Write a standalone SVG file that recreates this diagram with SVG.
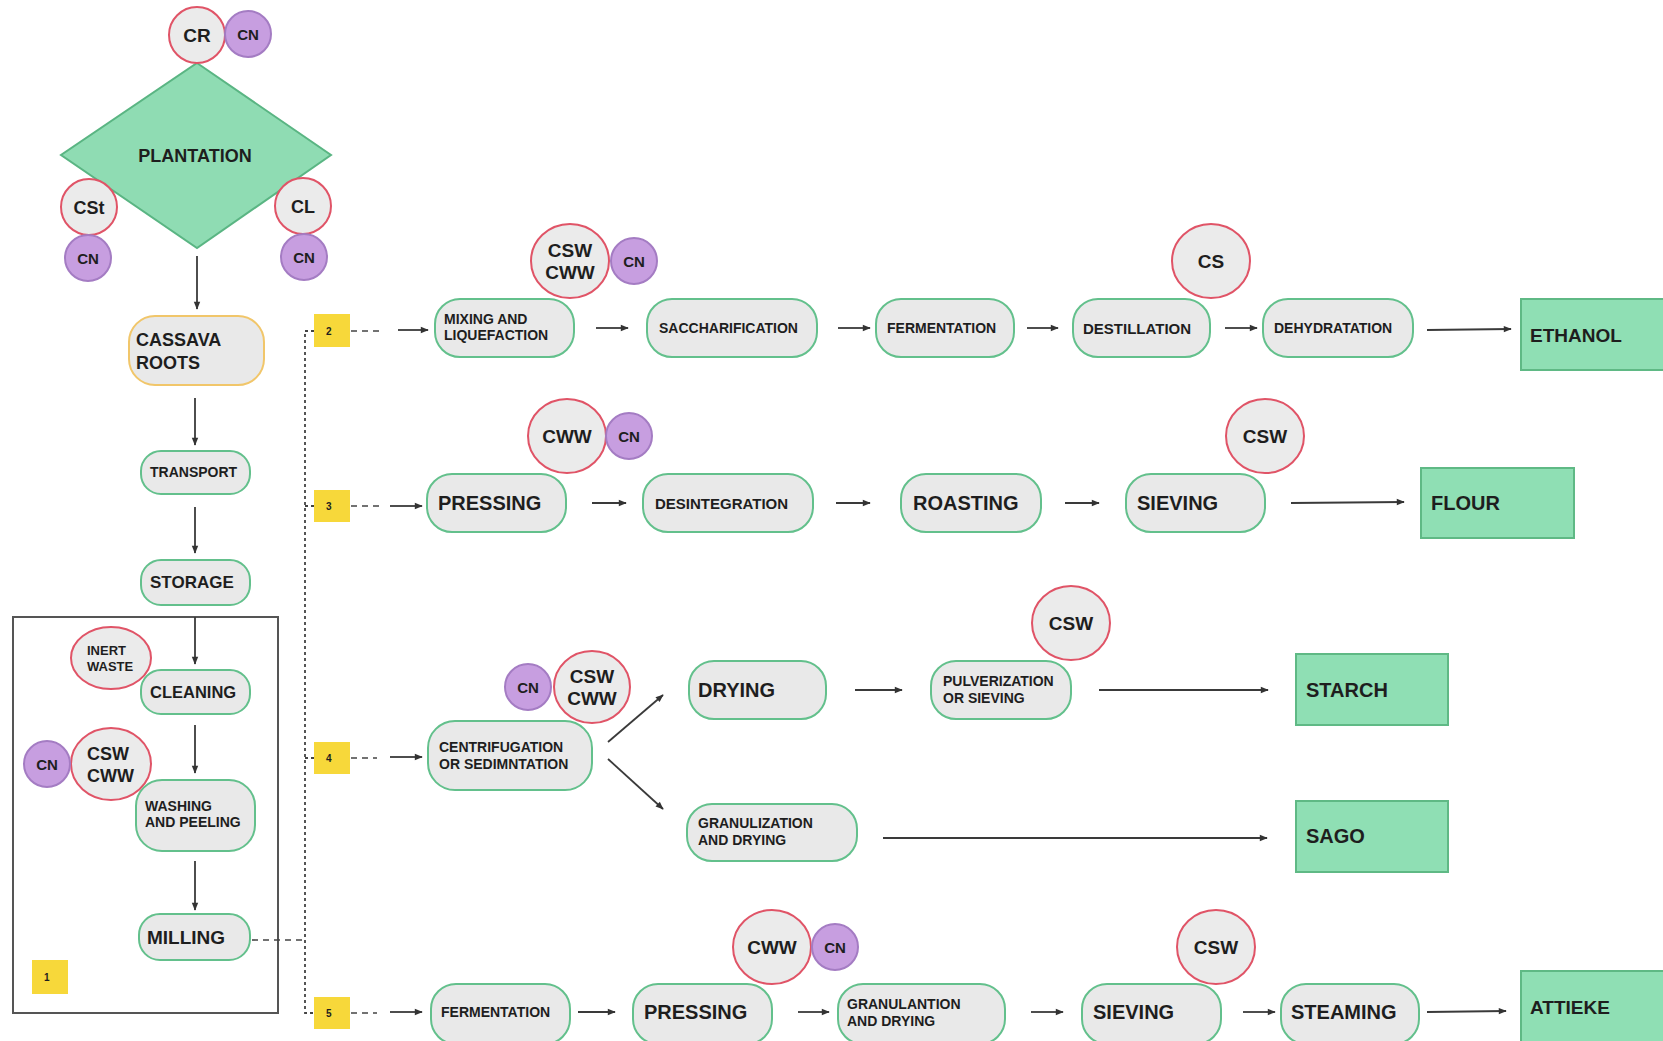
<svg xmlns="http://www.w3.org/2000/svg" width="1663" height="1041" viewBox="0 0 1663 1041">
<defs>
<style>
.t{font-family:"Liberation Sans",Arial,sans-serif;font-weight:bold;fill:#1e1e1e}
.n{fill:#e9e9e9;stroke:#63c08c;stroke-width:2}
.o{fill:#e9e9e9;stroke:#f1c66a;stroke-width:2}
.r{fill:#ebebeb;stroke:#e05467;stroke-width:2}
.p{fill:#c79ee0;stroke:#a47cc3;stroke-width:2}
.g{fill:#8fdfb4;stroke:#5fb985;stroke-width:2}
.y{fill:#f7d83a}
.a{stroke:#3a3a3a;stroke-width:1.8;fill:none}
.d{stroke:#444;stroke-width:1.6;fill:none;stroke-dasharray:6,5}
.v{stroke:#444;stroke-width:1.8;fill:none;stroke-dasharray:3,3}
</style>
<marker id="ah" viewBox="0 0 10 10" refX="9" refY="5" markerWidth="9" markerHeight="8" markerUnits="userSpaceOnUse" orient="auto"><path d="M0,1 L10,5 L0,9 z" fill="#333"/></marker>
</defs>
<rect width="1663" height="1041" fill="#fff"/>

<g id="group1-frame"><rect x="13" y="617" width="265" height="396" fill="none" stroke="#555" stroke-width="2"/></g>

<g id="connectors">
<line class="a" x1="197" y1="256" x2="197" y2="309" marker-end="url(#ah)"/>
<line class="a" x1="195" y1="398" x2="195" y2="445" marker-end="url(#ah)"/>
<line class="a" x1="195" y1="507" x2="195" y2="553" marker-end="url(#ah)"/>
<line class="a" x1="195" y1="617" x2="195" y2="664" marker-end="url(#ah)"/>
<line class="a" x1="195" y1="725" x2="195" y2="773" marker-end="url(#ah)"/>
<line class="a" x1="195" y1="861" x2="195" y2="910" marker-end="url(#ah)"/>
<line class="d" x1="252" y1="940" x2="305" y2="940"/>
<polyline class="v" points="314,331 305,331 305,1013 314,1013"/>
<line class="v" x1="305" y1="506" x2="314" y2="506"/>
<line class="v" x1="305" y1="758" x2="314" y2="758"/>
<line class="d" x1="351" y1="331" x2="384" y2="331"/>
<line class="d" x1="351" y1="506" x2="380" y2="506"/>
<line class="d" x1="351" y1="758" x2="377" y2="758"/>
<line class="d" x1="351" y1="1013" x2="377" y2="1013"/>
<line class="a" x1="398" y1="330" x2="428" y2="330" marker-end="url(#ah)"/>
<line class="a" x1="596" y1="328" x2="628" y2="328" marker-end="url(#ah)"/>
<line class="a" x1="838" y1="328" x2="870" y2="328" marker-end="url(#ah)"/>
<line class="a" x1="1027" y1="328" x2="1058" y2="328" marker-end="url(#ah)"/>
<line class="a" x1="1225" y1="328" x2="1257" y2="328" marker-end="url(#ah)"/>
<line class="a" x1="1427" y1="330" x2="1511" y2="329" marker-end="url(#ah)"/>
<line class="a" x1="390" y1="506" x2="422" y2="506" marker-end="url(#ah)"/>
<line class="a" x1="592" y1="503" x2="626" y2="503" marker-end="url(#ah)"/>
<line class="a" x1="836" y1="503" x2="870" y2="503" marker-end="url(#ah)"/>
<line class="a" x1="1065" y1="503" x2="1099" y2="503" marker-end="url(#ah)"/>
<line class="a" x1="1291" y1="503" x2="1404" y2="502" marker-end="url(#ah)"/>
<line class="a" x1="390" y1="757" x2="422" y2="757" marker-end="url(#ah)"/>
<line class="a" x1="608" y1="742" x2="663" y2="695" marker-end="url(#ah)"/>
<line class="a" x1="608" y1="759" x2="663" y2="809" marker-end="url(#ah)"/>
<line class="a" x1="855" y1="690" x2="902" y2="690" marker-end="url(#ah)"/>
<line class="a" x1="1099" y1="690" x2="1268" y2="690" marker-end="url(#ah)"/>
<line class="a" x1="883" y1="838" x2="1267" y2="838" marker-end="url(#ah)"/>
<line class="a" x1="390" y1="1012" x2="422" y2="1012" marker-end="url(#ah)"/>
<line class="a" x1="578" y1="1012" x2="615" y2="1012" marker-end="url(#ah)"/>
<line class="a" x1="798" y1="1012" x2="829" y2="1012" marker-end="url(#ah)"/>
<line class="a" x1="1031" y1="1012" x2="1063" y2="1012" marker-end="url(#ah)"/>
<line class="a" x1="1243" y1="1012" x2="1275" y2="1012" marker-end="url(#ah)"/>
<line class="a" x1="1427" y1="1012" x2="1506" y2="1011" marker-end="url(#ah)"/>
</g>

<g id="plantation"><polygon points="197,63 331,155 197,248 61,155" fill="#8fdcb3" stroke="#5ab583" stroke-width="2"/><text class="t" x="195" y="162" font-size="18" text-anchor="middle">PLANTATION</text></g>
<g id="cr"><circle class="r" cx="197" cy="35" r="28"/><text class="t" x="197" y="42" font-size="19" text-anchor="middle">CR</text></g>
<g id="cn-top"><circle class="p" cx="248" cy="34" r="23"/><text class="t" x="248" y="39.5" font-size="15" text-anchor="middle">CN</text></g>
<g id="cst"><circle class="r" cx="89" cy="207" r="28"/><text class="t" x="89" y="214" font-size="18" text-anchor="middle">CSt</text></g>
<g id="cn-left"><circle class="p" cx="88" cy="258" r="23"/><text class="t" x="88" y="263.5" font-size="15" text-anchor="middle">CN</text></g>
<g id="cl"><circle class="r" cx="303" cy="206" r="28"/><text class="t" x="303" y="213" font-size="18" text-anchor="middle">CL</text></g>
<g id="cn-right"><circle class="p" cx="304" cy="257" r="23"/><text class="t" x="304" y="262.5" font-size="15" text-anchor="middle">CN</text></g>

<g id="cassava-roots"><rect class="o" x="129" y="316" width="135" height="69" rx="26"/><text class="t" x="136" y="345.5" font-size="18">CASSAVA</text><text class="t" x="136" y="368.5" font-size="18">ROOTS</text></g>
<g id="transport"><rect class="n" x="141" y="451" width="109" height="43" rx="20"/><text class="t" x="150" y="477" font-size="14">TRANSPORT</text></g>
<g id="storage"><rect class="n" x="141" y="560" width="109" height="45" rx="20"/><text class="t" x="150" y="588" font-size="17">STORAGE</text></g>
<g id="cleaning"><rect class="n" x="141" y="670" width="109" height="44" rx="20"/><text class="t" x="150" y="698" font-size="16.5">CLEANING</text></g>
<g id="inert-waste"><ellipse class="r" cx="111" cy="658" rx="40" ry="31"/><text class="t" x="87" y="655" font-size="13">INERT</text><text class="t" x="87" y="671" font-size="13">WASTE</text></g>
<g id="washing-peeling"><rect class="n" x="136" y="780" width="119" height="71" rx="26"/><text class="t" x="145" y="811" font-size="14">WASHING</text><text class="t" x="145" y="827" font-size="14">AND PEELING</text></g>
<g id="csw-cww-left"><ellipse class="r" cx="111" cy="764" rx="40" ry="36"/><text class="t" x="87" y="759.5" font-size="18">CSW</text><text class="t" x="87" y="781.5" font-size="18">CWW</text></g>
<g id="cn-wash"><circle class="p" cx="47" cy="764" r="23"/><text class="t" x="47" y="769.5" font-size="15" text-anchor="middle">CN</text></g>
<g id="milling"><rect class="n" x="139" y="914" width="111" height="46" rx="21"/><text class="t" x="147" y="944" font-size="19">MILLING</text></g>
<g id="label1"><rect class="y" x="32" y="960" width="36" height="34"/><text class="t" x="44" y="981" font-size="10">1</text></g>

<g id="label2"><rect class="y" x="314" y="314" width="36" height="33"/><text class="t" x="326" y="335" font-size="10">2</text></g>
<g id="label3"><rect class="y" x="314" y="490" width="36" height="32"/><text class="t" x="326" y="510" font-size="10">3</text></g>
<g id="label4"><rect class="y" x="314" y="742" width="36" height="32"/><text class="t" x="326" y="762" font-size="10">4</text></g>
<g id="label5"><rect class="y" x="314" y="997" width="36" height="32"/><text class="t" x="326" y="1017" font-size="10">5</text></g>

<g id="mixing"><rect class="n" x="435" y="299" width="139" height="58" rx="25"/><text class="t" x="444" y="324" font-size="14">MIXING AND</text><text class="t" x="444" y="340" font-size="14">LIQUEFACTION</text></g>
<g id="csw-cww-2"><ellipse class="r" cx="570" cy="261" rx="39" ry="37"/><text class="t" x="570" y="256.5" font-size="19" text-anchor="middle">CSW</text><text class="t" x="570" y="278.5" font-size="19" text-anchor="middle">CWW</text></g>
<g id="cn-2"><circle class="p" cx="634" cy="261" r="23"/><text class="t" x="634" y="266.5" font-size="15" text-anchor="middle">CN</text></g>
<g id="saccharification"><rect class="n" x="647" y="299" width="170" height="58" rx="25"/><text class="t" x="659" y="333" font-size="14">SACCHARIFICATION</text></g>
<g id="fermentation-2"><rect class="n" x="876" y="299" width="138" height="58" rx="25"/><text class="t" x="887" y="333" font-size="14">FERMENTATION</text></g>
<g id="destillation"><rect class="n" x="1073" y="299" width="137" height="58" rx="25"/><text class="t" x="1083" y="333.5" font-size="15">DESTILLATION</text></g>
<g id="cs"><ellipse class="r" cx="1211" cy="261" rx="39" ry="37"/><text class="t" x="1211" y="268" font-size="19" text-anchor="middle">CS</text></g>
<g id="dehydratation"><rect class="n" x="1263" y="299" width="150" height="58" rx="25"/><text class="t" x="1274" y="333" font-size="14">DEHYDRATATION</text></g>
<g id="ethanol"><rect class="g" x="1521" y="299" width="150" height="71"/><text class="t" x="1530" y="342" font-size="19">ETHANOL</text></g>

<g id="pressing-3"><rect class="n" x="427" y="474" width="139" height="58" rx="25"/><text class="t" x="438" y="510" font-size="20">PRESSING</text></g>
<g id="cww-3"><ellipse class="r" cx="567" cy="436" rx="39" ry="37"/><text class="t" x="567" y="443" font-size="19" text-anchor="middle">CWW</text></g>
<g id="cn-3"><circle class="p" cx="629" cy="436" r="23"/><text class="t" x="629" y="441.5" font-size="15" text-anchor="middle">CN</text></g>
<g id="desintegration"><rect class="n" x="643" y="474" width="170" height="58" rx="25"/><text class="t" x="655" y="508.5" font-size="15">DESINTEGRATION</text></g>
<g id="roasting"><rect class="n" x="901" y="474" width="140" height="58" rx="25"/><text class="t" x="913" y="510" font-size="20">ROASTING</text></g>
<g id="sieving-3"><rect class="n" x="1126" y="474" width="139" height="58" rx="25"/><text class="t" x="1137" y="510" font-size="20">SIEVING</text></g>
<g id="csw-3"><ellipse class="r" cx="1265" cy="436" rx="39" ry="37"/><text class="t" x="1265" y="443" font-size="19" text-anchor="middle">CSW</text></g>
<g id="flour"><rect class="g" x="1421" y="468" width="153" height="70"/><text class="t" x="1431" y="510" font-size="20">FLOUR</text></g>

<g id="centrifugation"><rect class="n" x="428" y="721" width="164" height="69" rx="27"/><text class="t" x="439" y="752" font-size="14">CENTRIFUGATION</text><text class="t" x="439" y="769" font-size="14">OR SEDIMNTATION</text></g>
<g id="cn-4"><circle class="p" cx="528" cy="687" r="23"/><text class="t" x="528" y="692.5" font-size="15" text-anchor="middle">CN</text></g>
<g id="csw-cww-4"><ellipse class="r" cx="592" cy="687" rx="38" ry="36"/><text class="t" x="592" y="683" font-size="19" text-anchor="middle">CSW</text><text class="t" x="592" y="705" font-size="19" text-anchor="middle">CWW</text></g>
<g id="drying"><rect class="n" x="689" y="661" width="137" height="58" rx="25"/><text class="t" x="698" y="697" font-size="20">DRYING</text></g>
<g id="pulverization"><rect class="n" x="931" y="661" width="140" height="58" rx="25"/><text class="t" x="943" y="686" font-size="14">PULVERIZATION</text><text class="t" x="943" y="703" font-size="14">OR SIEVING</text></g>
<g id="csw-4"><ellipse class="r" cx="1071" cy="623" rx="39" ry="37"/><text class="t" x="1071" y="630" font-size="19" text-anchor="middle">CSW</text></g>
<g id="starch"><rect class="g" x="1296" y="654" width="152" height="71"/><text class="t" x="1306" y="697" font-size="20">STARCH</text></g>
<g id="granulization"><rect class="n" x="687" y="804" width="170" height="57" rx="25"/><text class="t" x="698" y="828" font-size="14">GRANULIZATION</text><text class="t" x="698" y="845" font-size="14">AND DRYING</text></g>
<g id="sago"><rect class="g" x="1296" y="801" width="152" height="71"/><text class="t" x="1306" y="843" font-size="20">SAGO</text></g>

<g id="fermentation-5"><rect class="n" x="431" y="984" width="139" height="60" rx="25"/><text class="t" x="441" y="1017" font-size="14">FERMENTATION</text></g>
<g id="pressing-5"><rect class="n" x="633" y="984" width="139" height="60" rx="25"/><text class="t" x="644" y="1019" font-size="20">PRESSING</text></g>
<g id="cww-5"><ellipse class="r" cx="772" cy="947" rx="39" ry="37"/><text class="t" x="772" y="954" font-size="19" text-anchor="middle">CWW</text></g>
<g id="cn-5"><circle class="p" cx="835" cy="947" r="23"/><text class="t" x="835" y="952.5" font-size="15" text-anchor="middle">CN</text></g>
<g id="granulantion"><rect class="n" x="838" y="984" width="167" height="60" rx="25"/><text class="t" x="847" y="1009" font-size="14">GRANULANTION</text><text class="t" x="847" y="1026" font-size="14">AND DRYING</text></g>
<g id="sieving-5"><rect class="n" x="1082" y="984" width="139" height="60" rx="25"/><text class="t" x="1093" y="1019" font-size="20">SIEVING</text></g>
<g id="csw-5"><ellipse class="r" cx="1216" cy="947" rx="39" ry="37"/><text class="t" x="1216" y="954" font-size="19" text-anchor="middle">CSW</text></g>
<g id="steaming"><rect class="n" x="1281" y="984" width="138" height="60" rx="25"/><text class="t" x="1291" y="1019" font-size="20">STEAMING</text></g>
<g id="attieke"><rect class="g" x="1521" y="971" width="150" height="80"/><text class="t" x="1530" y="1014" font-size="19">ATTIEKE</text></g>
</svg>
